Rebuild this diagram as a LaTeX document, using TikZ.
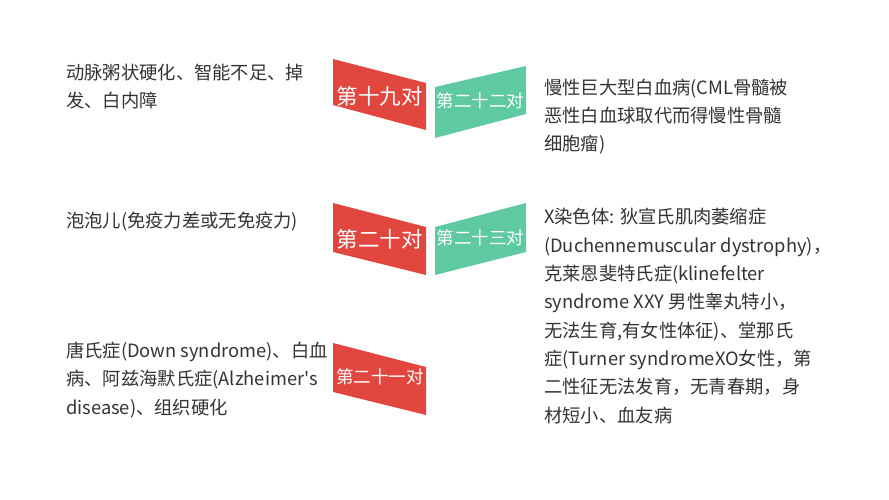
\documentclass[tikz,border=0pt]{standalone}
\usepackage{fontspec}
\setmainfont{Noto Sans CJK SC}
\usetikzlibrary{positioning}
\definecolor{flagred}{HTML}{E2473F}
\definecolor{flagmint}{HTML}{5FC9A2}
\definecolor{ink}{HTML}{333333}

\begin{document}
\begin{tikzpicture}[x=1pt,y=-1pt,
  flagtext/.style={text=white,inner sep=0pt,font=\fontsize{#1}{#1}\selectfont},
  note/.style={text=ink,align=left,inner sep=0pt,anchor=base west,font=\fontsize{18.3}{28.3}\selectfont}]
\useasboundingbox (0,0) rectangle (889,500);
% red flags lean down, mint flags lean up
\fill[flagred] (333,59) -- (426,83) -- (426,130) -- (333,105) -- cycle;
\fill[flagred] (333,203) -- (426,227) -- (426,275) -- (333,252) -- cycle;
\fill[flagred] (333,343) -- (426,367) -- (426,415) -- (333,392) -- cycle;
\fill[flagmint] (435,87) -- (526,66) -- (526,114) -- (435,138) -- cycle;
\fill[flagmint] (435,227) -- (526,203) -- (526,252) -- (435,275) -- cycle;
\node[flagtext=21.5] (c19) at (379.5,96) {第十九对};
\node[flagtext=21.5] (c20) at (379.5,239) {第二十对};
\node[flagtext=17.5] (c21) at (380,377) {第二十一对};
\node[flagtext=17.5] (c22) at (480.5,101) {第二十二对};
\node[flagtext=17.5] (c23) at (480.5,238) {第二十三对};
% notes are placed at the baseline of their last line
\node[note] (d19) at (66,108) {动脉粥状硬化、智能不足、掉\\发、白内障};
\node[note] (d20) at (66,227) {泡泡儿(免疫力差或无免疫力)};
\node[note] (d21) at (66,414) {唐氏症(Down syndrome)、白血\\病、阿兹海默氏症(Alzheimer\textquotesingle s\\disease)、组织硬化};
\node[note] (d22) at (544,151) {慢性巨大型白血病(CML骨髓被\\恶性白血球取代而得慢性骨髓\\细胞瘤)};
\node[note] (d23) at (544,422) {X染色体: 狄宣氏肌肉萎缩症\\(Duchennemuscular dystrophy)，\\克莱恩斐特氏症(klinefelter\\syndrome XXY 男性睾丸特小，\\无法生育,有女性体征)、堂那氏\\症(Turner syndromeXO女性，第\\二性征无法发育，无青春期，身\\材短小、血友病};
\end{tikzpicture}
\end{document}
